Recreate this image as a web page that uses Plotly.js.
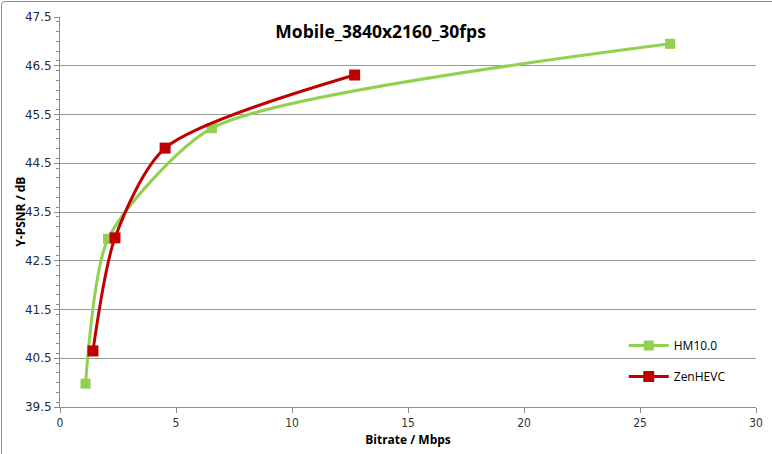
<!DOCTYPE html>
<html>
<head>
<meta charset="utf-8">
<script src="https://cdn.plot.ly/plotly-3.0.1.min.js"></script>
<style>
html,body{margin:0;padding:0;background:#fff;}
#wrap{position:absolute;left:0;top:0;width:772px;height:454px;}
#frame{position:absolute;left:1px;top:1px;width:790px;height:470px;border:1px solid #8c8c8c;border-radius:4px;pointer-events:none;}
#chart{position:absolute;left:0;top:0;width:772px;height:454px;}
</style>
</head>
<body>
<div id="wrap"><div id="chart"></div><div id="frame"></div></div>
<script>
const hmBitrate = [1.1, 2.07, 6.55, 26.3];
const hmPsnr = [39.98, 42.95, 45.22, 46.95];
const zenBitrate = [1.42, 2.37, 4.53, 12.7];
const zenPsnr = [40.65, 42.97, 44.81, 46.31];
const seriesNames = ['HM10.0', 'ZenHEVC'];
const chartTitle = 'Mobile_3840x2160_30fps';
const xTitle = 'Bitrate / Mbps';
const yTitle = 'Y-PSNR / dB';
const yTicks = [39.5, 40.5, 41.5, 42.5, 43.5, 44.5, 45.5, 46.5, 47.5];
const xTicks = [0, 5, 10, 15, 20, 25, 30];

const traces = [
  {x: hmBitrate, y: hmPsnr, name: seriesNames[0], legendgroup: 'g1', mode: 'lines+markers',
   line: {color: '#92D050', width: 3, shape: 'spline', smoothing: 0.65},
   marker: {symbol: 'square', size: 10, color: '#92D050'}},
  {x: zenBitrate, y: zenPsnr, name: seriesNames[1], legendgroup: 'g2', mode: 'lines+markers',
   line: {color: '#C00000', width: 3, shape: 'spline', smoothing: 0.75},
   marker: {symbol: 'square', size: 11, color: '#C00000'}}
];

const layout = {
  width: 772, height: 454,
  margin: {l: 60, r: 16, t: 17, b: 47},
  paper_bgcolor: '#fff', plot_bgcolor: '#fff',
  title: {text: '<b>' + chartTitle + '</b>', x: 0.493, xanchor: 'center', y: 0.93, yanchor: 'middle',
          font: {family: 'Open Sans, sans-serif', size: 17.5, color: '#000'}},
  font: {family: 'DejaVu Sans, sans-serif', size: 11, color: '#333'},
  showlegend: true,
  legend: {x: 0.81, y: 0.195, xanchor: 'left', yanchor: 'top', bgcolor: 'rgba(0,0,0,0)',
           font: {family: 'Open Sans, sans-serif', size: 12, color: '#000'}, tracegroupgap: 12, itemwidth: 40},
  xaxis: {range: [0, 30], tickvals: xTicks, ticktext: xTicks.map(String), showgrid: false, zeroline: false,
          showline: true, linecolor: '#8c8c8c', linewidth: 1, ticks: 'outside', ticklen: 5, tickcolor: '#8c8c8c',
          tickfont: {family: 'Liberation Sans Narrow, DejaVu Sans Condensed, sans-serif', size: 12, color: '#333'},
          title: {text: '<b>' + xTitle + '</b>', standoff: 6, font: {family: 'Open Sans, sans-serif', size: 12, color: '#000'}}},
  yaxis: {range: [39.5, 47.5], tickvals: yTicks, ticktext: yTicks.map(v => v.toFixed(1)), showgrid: true, gridcolor: '#9a9a9a', gridwidth: 1,
          zeroline: false, showline: true, linecolor: '#8c8c8c', linewidth: 1, ticks: 'outside', ticklen: 5, tickcolor: '#8c8c8c',
          minor: {dtick: 0.2, ticks: 'outside', ticklen: 3, tickcolor: '#8c8c8c', showgrid: false},
          tickfont: {family: 'DejaVu Sans, sans-serif', size: 12, color: '#1f2a44'}},
  annotations: [
    {text: '<b>' + yTitle + '</b>', xref: 'paper', yref: 'paper', x: -0.058, y: 0.5, xanchor: 'center', yanchor: 'middle',
     textangle: -90, showarrow: false, font: {family: 'Open Sans, sans-serif', size: 12, color: '#000'}}
  ]
};

Plotly.newPlot('chart', traces, layout, {displayModeBar: false, staticPlot: true});
</script>
</body>
</html>
